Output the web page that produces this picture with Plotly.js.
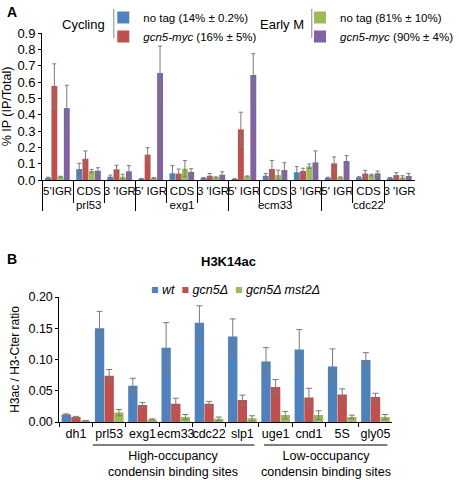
<!DOCTYPE html>
<html><head><meta charset="utf-8">
<script src="https://cdn.plot.ly/plotly-3.0.1.min.js"></script>
<style>body{margin:0;padding:0;background:#fff}#chart{width:459px;height:480px}</style>
</head><body><div id="chart"></div>
<script>
// ---------- Panel A data ----------
const genesA = ['prl53','prl53','prl53','exg1','exg1','exg1','ecm33','ecm33','ecm33','cdc22','cdc22','cdc22'];
const regionsA = ["5'IGR","CDS","3 'IGR","5' IGR","CDS","3 'IGR","5' IGR","CDS","3 'IGR","5' IGR","CDS","3 'IGR"];
// order in which the region labels must be registered on the category axis
const regionLabelOrderGenes = ['prl53', 'exg1'];
const regionLabelOrder = ["5'IGR", "5' IGR"];
const noTagCycling = [0.014, 0.067, 0.020, 0.008, 0.041, 0.012, 0.006, 0.026, 0.047, 0.014, 0.016, 0.012];
const noTagCyclingErr = [0.003, 0.035, 0.010, 0.002, 0.047, 0.003, 0.002, 0.014, 0.035, 0.003, 0.004, 0.003];
const gcn5Cycling = [0.576, 0.130, 0.065, 0.155, 0.039, 0.026, 0.310, 0.067, 0.055, 0.102, 0.039, 0.030];
const gcn5CyclingErr = [0.135, 0.048, 0.025, 0.043, 0.028, 0.014, 0.105, 0.053, 0.017, 0.039, 0.020, 0.015];
const noTagEarlyM = [0.020, 0.055, 0.020, 0.012, 0.069, 0.016, 0.022, 0.030, 0.084, 0.016, 0.030, 0.016];
const noTagEarlyMErr = [0.003, 0.010, 0.015, 0.002, 0.050, 0.003, 0.003, 0.030, 0.014, 0.003, 0.005, 0.010];
const gcn5EarlyM = [0.440, 0.057, 0.053, 0.655, 0.049, 0.032, 0.643, 0.061, 0.108, 0.116, 0.041, 0.025];
const gcn5EarlyMErr = [0.140, 0.018, 0.035, 0.165, 0.020, 0.018, 0.130, 0.045, 0.070, 0.033, 0.014, 0.015];
const seriesNamesA = ['no tag (14% ± 0.2%)', '<i>gcn5-myc</i> (16% ± 5%)', 'no tag (81% ± 10%)', '<i>gcn5-myc</i> (90% ± 4%)'];

// ---------- Panel B data ----------
const sitesB = ['dh1','prl53','exg1','ecm33','cdc22','slp1','uge1','cnd1','5S','gly05'];
const wt = [0.012, 0.150, 0.058, 0.119, 0.159, 0.137, 0.097, 0.116, 0.089, 0.099];
const wtErr = [0.001, 0.027, 0.012, 0.040, 0.027, 0.028, 0.022, 0.032, 0.028, 0.012];
const gcn5 = [0.008, 0.074, 0.027, 0.029, 0.029, 0.035, 0.056, 0.039, 0.044, 0.040];
const gcn5Err = [0.001, 0.010, 0.004, 0.009, 0.004, 0.008, 0.012, 0.015, 0.009, 0.006];
const gcn5mst2 = [0.002, 0.015, 0.004, 0.008, 0.005, 0.006, 0.011, 0.011, 0.008, 0.008];
const gcn5mst2Err = [0.0005, 0.005, 0.001, 0.004, 0.003, 0.004, 0.006, 0.007, 0.003, 0.004];

const BLUE = '#4F81BD', RED = '#C0504D', GREEN = '#9BBB59', PURPLE = '#8064A2';
const ERRC = '#7a7a7a';
const W = 459, H = 480;
const px = x => x / W, py = y => 1 - y / H;
const FONT = 'Liberation Sans, Arial, sans-serif';

function barA(y, err, color, name, idx, legend) {
  return {
    type: 'bar', x: [genesA, regionsA], y: y, name: name,
    xaxis: 'x', yaxis: 'y', legend: legend,
    width: 0.19, offset: -0.4 + idx * 0.2,
    marker: {color: color, line: {width: 0}},
    error_y: {type: 'data', array: err, visible: true, color: ERRC, thickness: 1, width: 2}
  };
}
function barB(y, err, color, name, idx) {
  return {
    type: 'bar', x: sitesB, y: y, name: name, showlegend: false,
    xaxis: 'x2', yaxis: 'y2',
    width: 0.28, offset: -0.43 + idx * 0.29,
    marker: {color: color, line: {width: 0}},
    error_y: {type: 'data', array: err, visible: true, color: ERRC, thickness: 1, width: 3}
  };
}

const data = [
  // empty trace: only registers the category order of the two 5' labels (draws nothing)
  {type: 'bar', x: [regionLabelOrderGenes, regionLabelOrder], y: [null, null], showlegend: false,
   xaxis: 'x', yaxis: 'y', hoverinfo: 'skip', marker: {color: 'rgba(0,0,0,0)'}},
  barA(noTagCycling, noTagCyclingErr, BLUE, seriesNamesA[0], 0, 'legend'),
  barA(gcn5Cycling, gcn5CyclingErr, RED, seriesNamesA[1], 1, 'legend'),
  barA(noTagEarlyM, noTagEarlyMErr, GREEN, seriesNamesA[2], 2, 'legend2'),
  barA(gcn5EarlyM, gcn5EarlyMErr, PURPLE, seriesNamesA[3], 3, 'legend2'),
  barB(wt, wtErr, BLUE, 'wt', 0),
  barB(gcn5, gcn5Err, RED, 'gcn5Δ', 1),
  barB(gcn5mst2, gcn5mst2Err, GREEN, 'gcn5Δ mst2Δ', 2)
];

const legendCommon = {
  xanchor: 'left', yanchor: 'top', bgcolor: 'rgba(0,0,0,0)', borderwidth: 0,
  font: {family: FONT, size: 11.5, color: '#000'}, tracegroupgap: 0, orientation: 'v', itemclick: false
};

const layout = {
  width: W, height: H, margin: {l: 0, r: 0, t: 0, b: 0},
  paper_bgcolor: '#fff', plot_bgcolor: 'rgba(0,0,0,0)',
  font: {family: FONT, color: '#000'},
  barmode: 'overlay',
  showlegend: true,
  legend: Object.assign({}, legendCommon, {x: px(108), y: py(3)}),
  legend2: Object.assign({}, legendCommon, {x: px(314), y: py(3)}),
  xaxis: {
    type: 'multicategory', domain: [px(44), px(434)], anchor: 'y',
    showline: true, linecolor: '#000', linewidth: 1, mirror: false,
    ticks: 'outside', tickson: 'boundaries', ticklen: 22, tickcolor: '#000', tickwidth: 1,
    showdividers: true, dividercolor: '#000', dividerwidth: 1,
    tickfont: {family: FONT, size: 11.5, color: '#000'}, tickangle: 0,
    showgrid: false, zeroline: false
  },
  yaxis: {
    domain: [py(180), py(33)], anchor: 'x', range: [0, 0.9],
    tickvals: [0, 0.1, 0.2, 0.3, 0.4, 0.5, 0.6, 0.7, 0.8, 0.9], tickformat: '.1f',
    showline: true, linecolor: '#000', linewidth: 1, ticks: 'outside', ticklen: 3, tickcolor: '#000',
    tickfont: {family: FONT, size: 13, color: '#000'},
    showgrid: false, zeroline: false,
    title: {text: '% IP (IP/Total)', font: {family: FONT, size: 12.5, color: '#000'}, standoff: 4}
  },
  xaxis2: {
    type: 'category', domain: [px(62), px(410)], anchor: 'y2',
    showline: true, linecolor: '#000', linewidth: 1,
    ticks: 'outside', tickson: 'boundaries', ticklen: 4, tickcolor: '#000',
    tickfont: {family: FONT, size: 12.5, color: '#000'}, tickangle: 0,
    showgrid: false, zeroline: false
  },
  yaxis2: {
    domain: [py(422), py(297)], anchor: 'x2', range: [0, 0.2],
    tickvals: [0, 0.05, 0.1, 0.15, 0.2], tickformat: '.2f',
    showline: true, linecolor: '#000', linewidth: 1, ticks: 'outside', ticklen: 3, tickcolor: '#000',
    tickfont: {family: FONT, size: 12.5, color: '#000'},
    showgrid: false, zeroline: false,
    title: {text: 'H3ac / H3-Cter ratio', font: {family: FONT, size: 12, color: '#000'}, standoff: 6}
  },
  annotations: [
    {text: '<b>A</b>', x: px(5), y: py(12), xref: 'paper', yref: 'paper', xanchor: 'left', yanchor: 'middle', showarrow: false, font: {family: FONT, size: 14}},
    {text: '<b>B</b>', x: px(5), y: py(259), xref: 'paper', yref: 'paper', xanchor: 'left', yanchor: 'middle', showarrow: false, font: {family: FONT, size: 14}},
    {text: 'Cycling', x: px(112), y: py(24), xref: 'paper', yref: 'paper', xanchor: 'right', yanchor: 'middle', showarrow: false, font: {family: FONT, size: 13}},
    {text: 'Early M', x: px(320), y: py(24), xref: 'paper', yref: 'paper', xanchor: 'right', yanchor: 'middle', showarrow: false, font: {family: FONT, size: 13}},
    {text: '<b>H3K14ac</b>', x: px(239), y: py(261), xref: 'paper', yref: 'paper', xanchor: 'center', yanchor: 'middle', showarrow: false, font: {family: FONT, size: 13}},
    {text: '<span style="color:' + BLUE + '">■</span> <i>wt</i>  <span style="color:' + RED + '">■</span> <i>gcn5Δ</i>  <span style="color:' + GREEN + '">■</span> <i>gcn5Δ mst2Δ</i>',
     x: px(246), y: py(290), xref: 'paper', yref: 'paper', xanchor: 'center', yanchor: 'middle', showarrow: false, font: {family: FONT, size: 12.5}},
    {text: 'High-occupancy<br>condensin binding sites', x: px(181), y: py(464), xref: 'paper', yref: 'paper', xanchor: 'center', yanchor: 'middle', showarrow: false, font: {family: FONT, size: 12.5}},
    {text: 'Low-occupancy<br>condensin binding sites', x: px(341), y: py(464), xref: 'paper', yref: 'paper', xanchor: 'center', yanchor: 'middle', showarrow: false, font: {family: FONT, size: 12.5}}
  ],
  shapes: [
    {type: 'line', xref: 'paper', yref: 'paper', x0: px(119), x1: px(119), y0: py(9), y1: py(38), line: {color: '#888', width: 1}},
    {type: 'line', xref: 'paper', yref: 'paper', x0: px(326), x1: px(326), y0: py(9), y1: py(38), line: {color: '#888', width: 1}},
    {type: 'line', xref: 'paper', yref: 'paper', x0: px(97), x1: px(266), y0: py(445), y1: py(445), line: {color: '#000', width: 1}},
    {type: 'line', xref: 'paper', yref: 'paper', x0: px(276), x1: px(405), y0: py(445), y1: py(445), line: {color: '#000', width: 1}}
  ]
};

Plotly.newPlot('chart', data, layout, {staticPlot: true, displayModeBar: false});
</script>
</body></html>
